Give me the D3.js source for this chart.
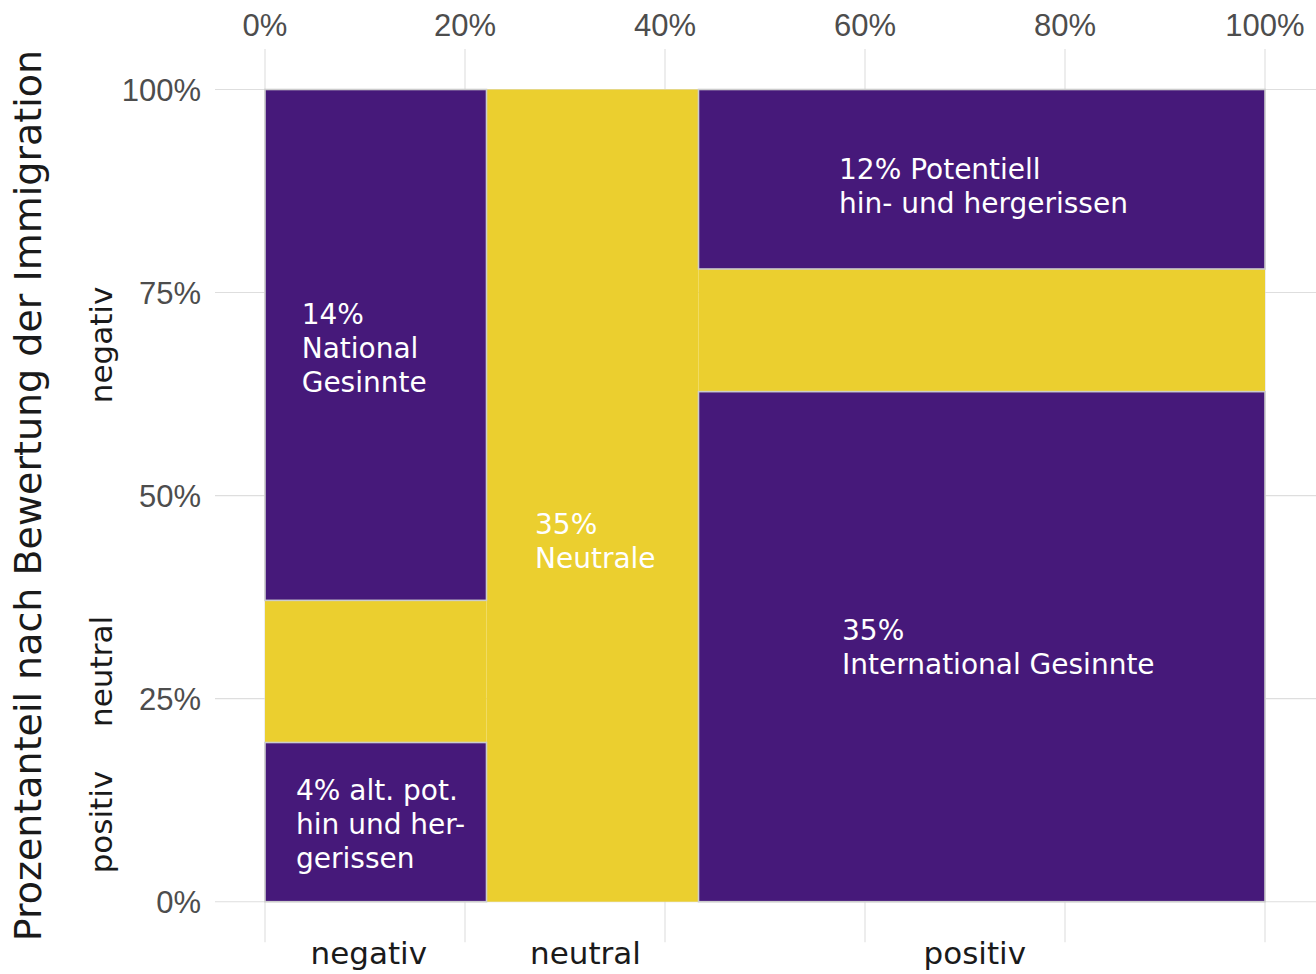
<!DOCTYPE html>
<meta charset="utf-8">
<style>
  body { margin: 0; background: #fff; }
  .grid line { stroke: #dedede; stroke-width: 1.1; }
  .tick-label { font: 31px "Liberation Sans", Arial, sans-serif; fill: #4d4d4d; }
  .cat-label { font: 31px "DejaVu Sans", sans-serif; fill: #1a1a1a; }
  .y-title { font: 38px "DejaVu Sans", sans-serif; fill: #1a1a1a; }
  .anno { font: 28px "DejaVu Sans", sans-serif; fill: #fff; }
</style>
<body>
<script src="https://cdnjs.cloudflare.com/ajax/libs/d3/7.8.5/d3.min.js"></script>
<script>
// columns: rating of immigration (x), share of all respondents in %
var colCats = ["negativ", "neutral", "positiv"];
var colShare = [22.15, 21.2, 56.65];

// rows inside each column, stacked from bottom: positiv, neutral, negativ (% of column)
var rowCats = ["positiv", "neutral", "negativ"];
var shareNegativ = [19.6, 17.5, 62.9];
var shareNeutral = [0, 100, 0];
var sharePositiv = [62.8, 15.1, 22.1];

var xTicks = [0, 20, 40, 60, 80, 100];
var yTicks = [0, 25, 50, 75, 100];

// annotation text, anchored in data units (% x, % y)
var annoLines = [
  ["14%", "National", "Gesinnte"],
  ["35%", "Neutrale"],
  ["12% Potentiell", "hin- und hergerissen"],
  ["35%", "International Gesinnte"],
  ["4% alt. pot.", "hin und her-", "gerissen"]
];
var annoX = [3.67, 27.0, 57.4, 57.7, 3.1];
var annoY = [68.2, 44.4, 88.1, 31.4, 9.6];

var W = 1316, H = 974;
var purple = "#46197a", yellow = "#ebcf2f";

var x = d3.scaleLinear().domain([0, 100]).range([265, 1265]);
var y = d3.scaleLinear().domain([0, 100]).range([901.7, 89.5]);
var panel = {left: 215, right: 1316, top: 48.9, bottom: 942.3};

var svg = d3.select("body").append("svg")
  .attr("width", W).attr("height", H);

// build cells
var colRows = [shareNegativ, shareNeutral, sharePositiv];
var cells = [];
var x0 = 0;
colCats.forEach(function (c, i) {
  var y0 = 0;
  rowCats.forEach(function (r, j) {
    var v = colRows[i][j];
    if (v > 0) {
      cells.push({col: c, row: r, x0: x0, x1: x0 + colShare[i], y0: y0, y1: y0 + v});
    }
    y0 += v;
  });
  x0 += colShare[i];
});
var cols = [];
x0 = 0;
colCats.forEach(function (c, i) {
  cols.push({name: c, mid: x0 + colShare[i] / 2});
  x0 += colShare[i];
});
var negCells = cells.filter(function (d) { return d.col === "negativ"; });

// grid
var grid = svg.append("g").attr("class", "grid");
grid.selectAll(".vx").data(xTicks).enter().append("line")
  .attr("x1", function (d) { return x(d); }).attr("x2", function (d) { return x(d); })
  .attr("y1", panel.top).attr("y2", panel.bottom);
grid.selectAll(".hy").data(yTicks).enter().append("line")
  .attr("y1", function (d) { return y(d); }).attr("y2", function (d) { return y(d); })
  .attr("x1", panel.left).attr("x2", panel.right);

function isNeutral(d) { return d.col === "neutral" || d.row === "neutral"; }

// yellow cells first, then purple with light border on top
svg.append("g").selectAll("rect")
  .data(cells.filter(isNeutral)).enter().append("rect")
  .attr("x", function (d) { return x(d.x0); })
  .attr("y", function (d) { return y(d.y1); })
  .attr("width", function (d) { return x(d.x1) - x(d.x0); })
  .attr("height", function (d) { return y(d.y0) - y(d.y1); })
  .attr("fill", yellow);

svg.append("g").selectAll("rect")
  .data(cells.filter(function (d) { return !isNeutral(d); })).enter().append("rect")
  .attr("x", function (d) { return x(d.x0); })
  .attr("y", function (d) { return y(d.y1); })
  .attr("width", function (d) { return x(d.x1) - x(d.x0); })
  .attr("height", function (d) { return y(d.y0) - y(d.y1); })
  .attr("fill", purple)
  .attr("stroke", "#cccccc")
  .attr("stroke-width", 1.6);

// top axis tick labels
svg.append("g").selectAll("text").data(xTicks).enter().append("text")
  .attr("class", "tick-label")
  .attr("x", function (d) { return x(d); })
  .attr("y", 36)
  .attr("text-anchor", "middle")
  .text(function (d) { return d + "%"; });

// left axis tick labels
svg.append("g").selectAll("text").data(yTicks).enter().append("text")
  .attr("class", "tick-label")
  .attr("x", 201)
  .attr("y", function (d) { return y(d); })
  .attr("dy", "0.36em")
  .attr("text-anchor", "end")
  .text(function (d) { return d + "%"; });

// bottom category labels
svg.append("g").selectAll("text").data(cols).enter().append("text")
  .attr("class", "cat-label")
  .attr("x", function (d) { return x(d.mid) - 7; })
  .attr("y", 964)
  .attr("text-anchor", "middle")
  .text(function (d) { return d.name; });

// left category labels (rotated), at the row centres of the first column
svg.append("g").selectAll("text").data(negCells).enter().append("text")
  .attr("class", "cat-label")
  .attr("transform", function (d) {
    return "translate(112," + y((d.y0 + d.y1) / 2) + ") rotate(-90)";
  })
  .attr("text-anchor", "middle")
  .text(function (d) { return d.row; });

// y title
svg.append("text")
  .attr("class", "y-title")
  .attr("transform", "translate(41," + ((panel.top + panel.bottom) / 2) + ") rotate(-90)")
  .attr("text-anchor", "middle")
  .text("Prozentanteil nach Bewertung der Immigration");

// annotations
var lh = 34;
annoLines.forEach(function (lines, i) {
  var t = svg.append("text").attr("class", "anno");
  lines.forEach(function (s, k) {
    t.append("tspan")
      .attr("x", x(annoX[i]))
      .attr("y", y(annoY[i]) + (k - (lines.length - 1) / 2) * lh)
      .attr("dy", "0.36em")
      .text(s);
  });
});
</script>
</body>
